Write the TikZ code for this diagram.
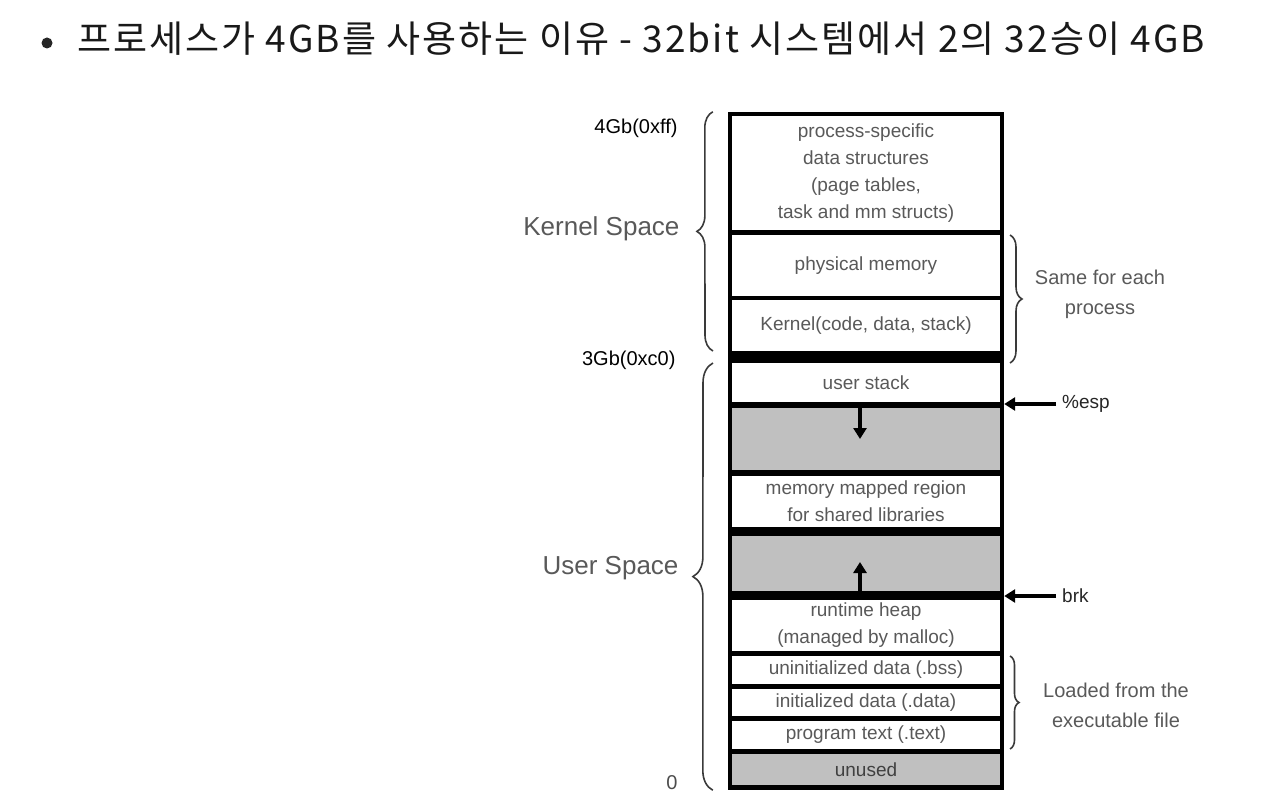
\documentclass[tikz,border=0pt]{standalone}
\usepackage{fontspec}
\setmainfont{Liberation Sans}
\newfontfamily\krfont[LetterSpace=5.5]{Noto Sans CJK KR}
\usetikzlibrary{shapes,arrows.meta,positioning,decorations.pathreplacing}
\definecolor{textgray}{HTML}{595959}
\definecolor{fillgray}{HTML}{C0C0C0}
\definecolor{bracegray}{HTML}{3A3A3A}

\begin{document}
\begin{tikzpicture}[
    x=1pt, y=-1pt,
    region/.style={
        rectangle,
        fill=white,
        text=textgray,
        inner sep=0pt,
        outer sep=0pt,
        minimum width=268pt,
        align=center,
        font=\fontsize{19}{27}\selectfont
    },
    freeregion/.style={region, fill=fillgray},
    addr/.style={text=black, font=\fontsize{20}{22}\selectfont},
    spacelabel/.style={text=textgray, font=\fontsize{26}{28}\selectfont},
    note/.style={text=textgray, align=center, font=\fontsize{20}{30}\selectfont},
    pointer/.style={text=black!85, inner sep=0pt, font=\fontsize{19}{20}\selectfont},
    curly/.style={draw=bracegray, line width=1.6pt, decorate,
        decoration={brace, amplitude=#1}},
    growarrow/.style={-{Triangle[length=11pt,width=13pt]}, line width=3.4pt},
    % regions are stacked with the positioning library
    node distance=5pt
]
    \useasboundingbox (0,0) rectangle (1262,808);

    % Title line with its bullet
    \node[circle, fill=black!85, minimum size=11pt, inner sep=0pt] (bullet) at (47,43) {};
    \node[anchor=base west, text=black!90, inner sep=0pt,
          font=\krfont\fontsize{37}{40}\selectfont] (title) at (77,53)
        {프로세스가 4GB를 사용하는 이유 - 32bit 시스템에서 2의 32승이 4GB};

    % The black frame behind the memory regions
    \node[fill=black, inner sep=0pt, minimum width=276pt, minimum height=678pt] (frame) at (866,451) {};

    % Kernel part of the address space
    \node[region, minimum height=114pt] (procdata) at (866,173)
        {process-specific\\data structures\\(page tables,\\task and mm structs)};
    \node[region, minimum height=61pt, below=of procdata] (physmem) {physical memory};
    \node[region, minimum height=51pt, below=4pt of physmem] (kernel) {Kernel(code, data, stack)};

    % User part of the address space
    \node[region, minimum height=39pt, below=12pt of kernel] (ustack) {user stack};
    \node[freeregion, minimum height=62pt, below=6pt of ustack] (gap1) {};
    \node[region, minimum height=51pt, below=6pt of gap1] (mmap) {memory mapped region\\for shared libraries};
    \node[freeregion, minimum height=55pt, below=9pt of mmap] (gap2) {};
    \node[region, minimum height=51pt, below=9pt of gap2] (heap) {runtime heap\\(managed by malloc)};
    \node[region, minimum height=28pt, below=of heap] (bss) {uninitialized data (.bss)};
    \node[region, minimum height=27pt, below=of bss] (data) {initialized data (.data)};
    \node[region, minimum height=28pt, below=of data] (text) {program text (.text)};
    \node[freeregion, minimum height=31pt, below=of text, text=black!75] (unused) {unused};

    % Stack grows down, heap grows up
    \draw[growarrow] ([xshift=-6pt]gap1.north) -- ++(0,31);
    \draw[growarrow] ([xshift=-6pt]gap2.south) -- ++(0,-29);

    % Addresses on the left
    \node[addr, anchor=east] (top) at (681,128) {4Gb(0xff)};
    \node[addr, anchor=east] (mid) at (679,360) {3Gb(0xc0)};
    \node[addr, text=black!70] (zero) at (672,783) {0};

    % Braces and labels on the left
    \draw[curly=16pt] ([xshift=-19pt]kernel.south west) -- ([xshift=-15pt]frame.north west);
    \draw[curly=20pt] ([xshift=-15pt]frame.south west) -- ([xshift=-19pt]ustack.north west);
    \node[spacelabel, anchor=east] (kspace) at (683,229) {Kernel Space};
    \node[spacelabel, anchor=east] (uspace) at (682,568) {User Space};

    % Braces and notes on the right
    \draw[curly=12pt] ([xshift=10pt]physmem.north east) -- ([xshift=10pt]ustack.north east);
    \draw[curly=9pt] ([xshift=10pt]bss.north east) -- ([xshift=10pt]text.south east);
    \node[note] (same) at (1100,294) {Same for each\\process};
    \node[note] (loaded) at (1116,705) {Loaded from the\\executable file};

    % Pointers into the user space
    \node[pointer, anchor=west] (esp) at (1062,404) {\%esp};
    \node[pointer, anchor=west] (brk) at (1062,596) {brk};
    \draw[growarrow] ([xshift=-6pt]esp.west) -- (esp.west -| frame.east);
    \draw[growarrow] ([xshift=-6pt]brk.west) -- (brk.west -| frame.east);

\end{tikzpicture}
\end{document}
